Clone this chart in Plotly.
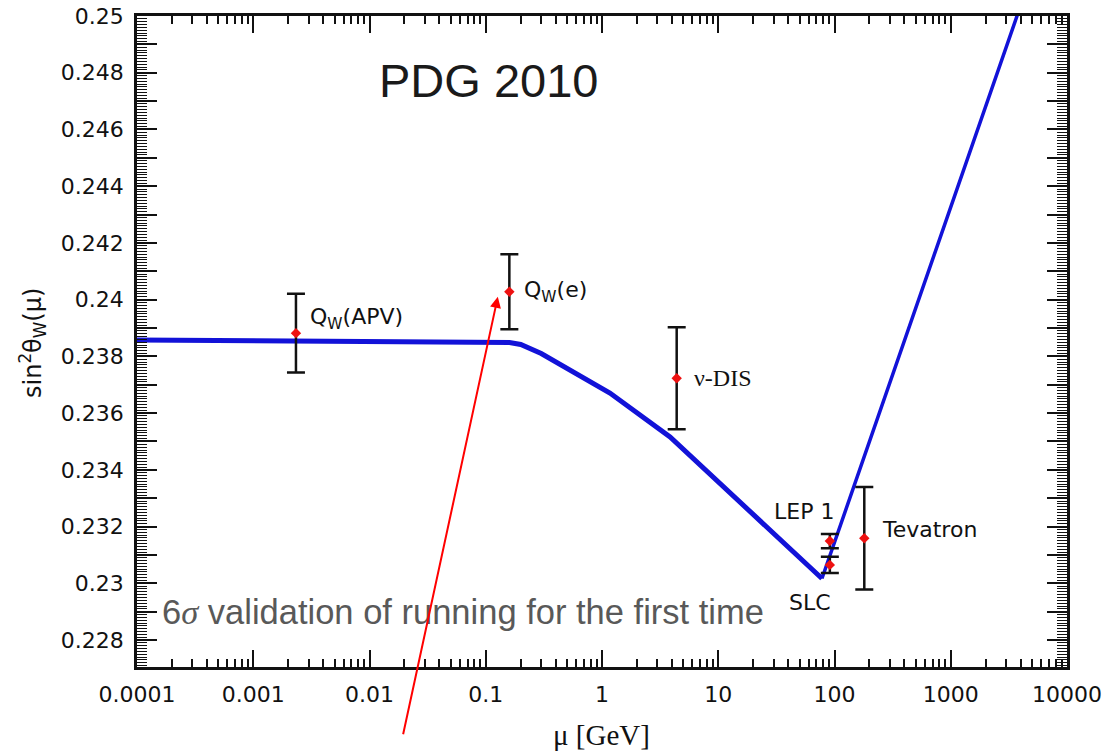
import math
import plotly.graph_objects as go

# ---------------- data ----------------
# running curve of sin^2(theta_W)(mu)
curve_low_mu = [0.0001, 0.16, 0.2, 0.3, 1.17, 3.85, 78]
curve_low_s2 = [0.23858, 0.23849, 0.23842, 0.23810, 0.23671, 0.23516, 0.23017]
curve_high_mu = [78, 3715, 10000]
curve_high_s2 = [0.23017, 0.25000, 0.25540]

# measurements
meas_names = ["Q<sub>W</sub>(APV)", "Q<sub>W</sub>(e)", "ν-DIS", "LEP 1", "SLC", "Tevatron"]
meas_mu = [0.00233, 0.1596, 4.39, 91.19, 91.19, 180.4]
meas_s2 = [0.23882, 0.24028, 0.23723, 0.23149, 0.23065, 0.23159]
meas_err = [0.00139, 0.00132, 0.00180, 0.00025, 0.00029, 0.00181]

x_tickvals = [0.0001, 0.001, 0.01, 0.1, 1, 10, 100, 1000, 10000]
x_ticktext = ["0.0001", "0.001", "0.01", "0.1", "1", "10", "100", "1000", "10000"]
y_tickvals = [0.228, 0.230, 0.232, 0.234, 0.236, 0.238, 0.240,
              0.242, 0.244, 0.246, 0.248, 0.250]
y_ticktext = ["0.228", "0.23", "0.232", "0.234", "0.236", "0.238", "0.24",
              "0.242", "0.244", "0.246", "0.248", "0.25"]
y_odd_ticks = [0.229, 0.231, 0.233, 0.235, 0.237, 0.239, 0.241,
               0.243, 0.245, 0.247, 0.249]

# ---------------- style / layout constants ----------------
L, R, T, B = 137, 38, 16, 84
W, H = 1105, 751
PW, PH = W - L - R, H - T - B
Y_RANGE = [0.22705, 0.25]
SANS = "DejaVu Sans"
ARIAL = "Liberation Sans, Arial"
SERIF = "Liberation Serif, Times New Roman"
BLUE = "#1212d8"
RED = "#ee1111"
INK = "#111111"


def px_x(p):
    return (p - L) / PW


def px_y(p):
    return (H - B - p) / PH


fig = go.Figure()

fig.add_trace(go.Scatter(x=curve_low_mu, y=curve_low_s2, mode="lines",
                         line=dict(color=BLUE, width=5), hoverinfo="skip",
                         showlegend=False))
fig.add_trace(go.Scatter(x=curve_high_mu, y=curve_high_s2, mode="lines",
                         line=dict(color=BLUE, width=3.5), hoverinfo="skip",
                         showlegend=False))
fig.add_trace(go.Scatter(
    x=meas_mu, y=meas_s2, mode="markers",
    marker=dict(symbol="diamond", size=8, color=RED),
    error_y=dict(type="data", array=meas_err, symmetric=True,
                 color=INK, thickness=2.5, width=9),
    showlegend=False))
# helper trace so the overlaying tick axis is drawn (invisible)
fig.add_trace(go.Scatter(x=[meas_mu[0]], y=[meas_s2[0]], yaxis="y2",
                         mode="markers", marker=dict(opacity=0),
                         hoverinfo="skip", showlegend=False))

# minor ticks for log axis
x_minor = [m * 10 ** e for e in range(-4, 4) for m in range(2, 10)]

fig.update_layout(
    xaxis=dict(
        type="log", range=[-4, 4], automargin=False,
        tickmode="array", tickvals=x_tickvals, ticktext=x_ticktext,
        ticks="inside", ticklen=17, tickwidth=2, tickcolor=INK,
        minor=dict(tickmode="array", tickvals=x_minor, ticks="inside",
                   ticklen=8, tickwidth=1.6, tickcolor=INK, showgrid=False),
        showline=True, linewidth=2.5, linecolor=INK, mirror="ticks",
        showgrid=False, zeroline=False,
        tickfont=dict(family=SANS, size=22, color=INK),
        ticklabelstandoff=6,
    ),
    yaxis=dict(
        range=Y_RANGE, automargin=False,
        tickmode="array", tickvals=y_tickvals, ticktext=y_ticktext,
        ticks="inside", ticklen=20, tickwidth=2, tickcolor=INK,
        minor=dict(dtick=0.0001, tick0=0.228, ticks="inside", ticklen=10,
                   tickwidth=1.2, tickcolor=INK, showgrid=False),
        showline=True, linewidth=2.5, linecolor=INK, mirror="ticks",
        showgrid=False, zeroline=False,
        tickfont=dict(family=SANS, size=22, color=INK),
        ticklabelstandoff=6,
    ),
    yaxis2=dict(
        range=Y_RANGE, overlaying="y", side="left", automargin=False,
        tickmode="array", tickvals=y_odd_ticks, showticklabels=False,
        ticks="inside", ticklen=20, tickwidth=2, tickcolor=INK,
        showline=True, linewidth=2.5, linecolor=INK, mirror="ticks",
        showgrid=False, zeroline=False,
    ),
)

annotations = []
# measurement labels: (xanchor, xshift, yshift, font)
label_style = [
    ("left", 12, 15, dict(family=SANS, size=22, color=INK)),
    ("left", 13, 0, dict(family=SANS, size=22, color=INK)),
    ("left", 15, 0, dict(family=SERIF, size=24, color=INK)),
    ("right", 6, 30, dict(family=SANS, size=22, color=INK)),
    ("center", -20, -38, dict(family=SANS, size=22, color=INK)),
    ("left", 16, 9, dict(family=SANS, size=22, color=INK)),
]
for name, mu, s2, (xa, xs, ys, f) in zip(meas_names, meas_mu, meas_s2, label_style):
    annotations.append(dict(x=math.log10(mu), y=s2, xref="x", yref="y",
                            text=name, showarrow=False, xanchor=xa,
                            yanchor="middle", xshift=xs, yshift=ys, font=f))

annotations += [
    dict(x=px_x(488), y=px_y(80), xref="paper", yref="paper",
         text="PDG 2010", showarrow=False, xanchor="center", yanchor="middle",
         font=dict(family=ARIAL, size=47, color="#1a1a1a")),
    dict(x=px_x(160), y=px_y(612), xref="paper", yref="paper",
         text="6<i><span style=\"font-family:Liberation Serif\">σ</span></i> validation of running for the first time",
         showarrow=False, xanchor="left", yanchor="middle",
         font=dict(family=ARIAL, size=34.5, color="#595959")),
    dict(x=px_x(33), y=px_y(343), xref="paper", yref="paper",
         text="sin<sup>2</sup>θ<sub>W</sub>(μ)", textangle=-90,
         showarrow=False, xanchor="center", yanchor="middle",
         font=dict(family=SANS, size=24, color=INK)),
    dict(x=px_x(601), y=px_y(735), xref="paper", yref="paper",
         text="μ [GeV]", showarrow=False, xanchor="center", yanchor="middle",
         font=dict(family=SERIF, size=29, color=INK)),
    # red arrow
    dict(x=math.log10(0.127), y=0.24010, xref="x", yref="y", text="",
         showarrow=True, arrowhead=2, arrowsize=1.1, arrowwidth=2,
         arrowcolor="#ff0000", ax=-95, ay=439, axref="pixel", ayref="pixel"),
]

fig.update_layout(
    width=W, height=H,
    margin=dict(l=L, r=R, t=T, b=B, pad=0, autoexpand=False),
    paper_bgcolor="white", plot_bgcolor="white",
    annotations=annotations,
    showlegend=False,
)

fig.write_html("out.html",
               config={"displayModeBar": False},
               post_script="document.body.style.margin='0';"
                           "document.body.style.overflow='hidden';")
